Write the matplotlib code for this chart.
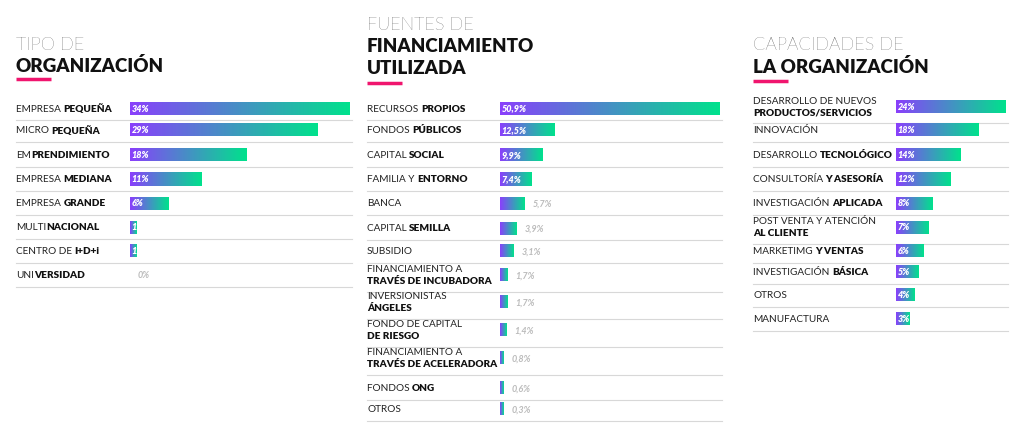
import matplotlib
matplotlib.use("Agg")
import matplotlib.pyplot as plt
import numpy as np
from matplotlib.colors import LinearSegmentedColormap

plt.rcParams['font.family'] = ['Lato', 'DejaVu Sans']

# ---- data ----
org_labels = [[("EMPRESA ", "PEQUEÑA")], [("MICRO ", "PEQUEÑA")], [("EM", "PRENDIMIENTO")],
              [("EMPRESA ", "MEDIANA")], [("EMPRESA ", "GRANDE")], [("MULTI", "NACIONAL")],
              [("CENTRO DE ", "I+D+i")], [("UNI", "VERSIDAD")]]
org_values = [34, 29, 18, 11, 6, 1, 1, 0]
org_text = ["34%", "29%", "18%", "11%", "6%", "1%", "1%", "0%"]

fin_labels = [[("RECURSOS ", "PROPIOS")], [("FONDOS ", "PÚBLICOS")], [("CAPITAL ", "SOCIAL")],
              [("FAMILIA Y ", "ENTORNO")], [("BANCA", "")], [("CAPITAL ", "SEMILLA")],
              [("SUBSIDIO", "")], [("FINANCIAMIENTO A", ""), ("", "TRAVÉS DE INCUBADORA")],
              [("INVERSIONISTAS", ""), ("", "ÁNGELES")], [("FONDO DE CAPITAL", ""), ("", "DE RIESGO")],
              [("FINANCIAMIENTO A", ""), ("", "TRAVÉS DE ACELERADORA")], [("FONDOS ", "ONG")],
              [("OTROS", "")]]
fin_values = [50.9, 12.5, 9.9, 7.4, 5.7, 3.9, 3.1, 1.7, 1.7, 1.4, 0.8, 0.6, 0.3]
fin_text = ["50,9%", "12,5%", "9,9%", "7,4%", "5,7%", "3,9%", "3,1%", "1,7%", "1,7%", "1,4%", "0,8%", "0,6%", "0,3%"]

cap_labels = [[("DESARROLLO DE NUEVOS", ""), ("", "PRODUCTOS/SERVICIOS")], [("INNOVACIÓN", "")],
              [("DESARROLLO ", "TECNOLÓGICO")], [("CONSULTORÍA ", "Y ASESORÍA")],
              [("INVESTIGACIÓN ", "APLICADA")], [("POST VENTA Y ATENCIÓN", ""), ("", "AL CLIENTE")],
              [("MARKETIMG ", "Y VENTAS")], [("INVESTIGACIÓN ", "BÁSICA")], [("OTROS", "")],
              [("MANUFACTURA", "")]]
cap_values = [24, 18, 14, 12, 8, 7, 6, 5, 4, 3]
cap_text = ["24%", "18%", "14%", "12%", "8%", "7%", "6%", "5%", "4%", "3%"]

W, H = 1024, 435
fig = plt.figure(figsize=(W/100, H/100), dpi=100)
ov = fig.add_axes([0, 0, 1, 1])
ov.set_xlim(0, W); ov.set_ylim(H, 0); ov.axis('off')
ren = fig.canvas.get_renderer()
cmap = LinearSegmentedColormap.from_list("g", ["#8a3ffc", "#00e28c"])
grad = np.linspace(0, 1, 256).reshape(1, -1)
PINK = "#f0156e"

def rich(x, y, parts, size=7.2, color="#222"):
    t = ov.text(x, y, parts[0], fontsize=size, color=color, va='center', ha='left')
    if parts[1]:
        bb = t.get_window_extent(ren) if parts[0] else None
        x2 = x + (bb.width if bb is not None else 0)
        ov.text(x2, y, parts[1], fontsize=size, color="#111", fontweight='heavy', va='center', ha='left')

def panel(titles, tx, ty, ul_y, labels, values, texts, rows, bx, bwidth, vmax, lx, lend, inside_min):
    for i, (t, bold) in enumerate(titles):
        ov.text(tx, ty[i], t, fontsize=13 if not bold else 13.5, fontweight='heavy' if bold else 'light',
                color="#111", va='center')
    ov.plot([tx, tx + 35], [ul_y, ul_y], color=PINK, lw=2.5, solid_capstyle='butt')
    ax = fig.add_axes([bx / W, 0, bwidth / W, 1])
    ax.set_xlim(0, vmax); ax.set_ylim(H, 0); ax.axis('off')
    ppx = vmax / bwidth
    bh = 13
    for lab, v, txt, y in zip(labels, values, texts, rows):
        if len(lab) == 1:
            rich(lx, y, lab[0])
        else:
            rich(lx, y - 6, lab[0]); rich(lx, y + 6, lab[1])
        w = max(v, 4 * ppx) if v > 0 else 0
        if w > 0:
            ax.imshow(grad, cmap=cmap, aspect='auto', extent=(0, w, y + bh/2, y - bh/2), interpolation='bilinear')
        if v >= inside_min:
            ax.text(1.5 * ppx, y, txt, color='white', fontsize=6.5, fontweight='heavy', style='italic', va='center')
        else:
            ax.text(w + 8 * ppx, y, txt, color='#bbbbbb', fontsize=6.5, fontweight='bold', style='italic', va='center')
        sep = y + (17 if len(lab) > 1 else 12)
        ov.plot([lx, lend], [sep, sep], color='#d8d8d8', lw=0.8)
    ax.set_xlim(0, vmax); ax.set_ylim(H, 0)

panel([("TIPO DE", False), ("ORGANIZACIÓN", True)], 16, [45, 66], 80,
      org_labels, org_values, org_text, [109, 131, 156, 180, 204, 228, 252, 276],
      130, 220, 34, 16, 352, 1)
panel([("FUENTES DE", False), ("FINANCIAMIENTO", True), ("UTILIZADA", True)], 367, [25, 47, 69], 84,
      fin_labels, fin_values, fin_text, [109, 131, 156, 180, 204, 229, 252, 276, 303, 331, 359, 389, 410],
      500, 220, 50.9, 367, 722, 7)
panel([("CAPACIDADES DE", False), ("LA ORGANIZACIÓN", True)], 753, [45, 67], 82,
      cap_labels, cap_values, cap_text, [107, 131, 156, 180, 204, 228, 252, 273, 296, 320],
      896, 110, 24, 753, 1008, 3)

fig.savefig("out.png", dpi=100)
